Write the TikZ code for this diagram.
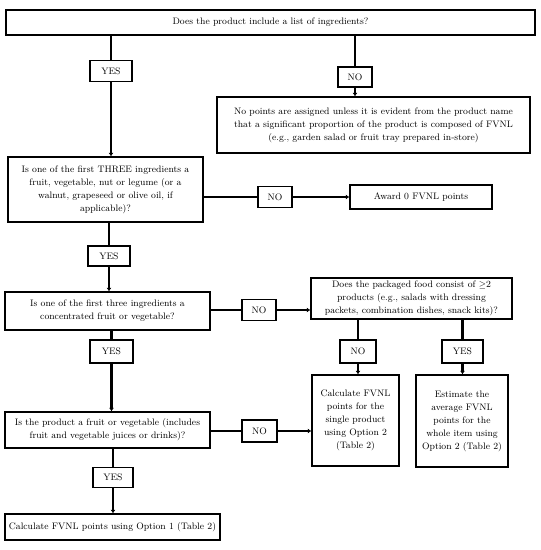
\documentclass[tikz,border=0pt]{standalone}
\usepackage{tikz}
\usetikzlibrary{arrows.meta}

\begin{document}
\begin{tikzpicture}[x=1pt,y=-1pt,
    box/.style={draw,line width=1.3pt,align=center,inner sep=0pt,
      font=\fontsize{9.4}{13}\selectfont},
    tag/.style={box,minimum width=36,minimum height=21},
    link/.style={line width=2.4pt},
    go/.style={link,-{Latex[length=3.5pt,width=5pt]}}]
    \useasboundingbox (0,0) rectangle (541,550);

    % Questions
    \node[box,minimum width=529,minimum height=25] (top) at (270.5,22.5)
      {Does the product include a list of ingredients?};
    \node[box,minimum width=195,minimum height=65] (q2) at (105.5,189.5)
      {Is one of the first THREE ingredients a\\ fruit, vegetable, nut or legume (or a\\ walnut, grapeseed or olive oil, if\\ applicable)?};
    \node[box,minimum width=205,minimum height=38] (q3) at (107.5,311)
      {Is one of the first three ingredients a\\ concentrated fruit or vegetable?};
    \node[box,minimum width=201,minimum height=41] (q4) at (411.5,298.5)
      {Does the packaged food consist of $\geq$2\\ products (e.g., salads with dressing\\ packets, combination dishes, snack kits)?};
    \node[box,minimum width=205,minimum height=36] (q5) at (107.5,430)
      {Is the product a fruit or vegetable (includes\\ fruit and vegetable juices or drinks)?};

    % Outcomes
    \node[box,minimum width=313,minimum height=56] (nopts) at (373.5,125)
      {No points are assigned unless it is evident from the product name\\ that a significant proportion of the product is composed of FVNL\\ (e.g., garden salad or fruit tray prepared in-store)};
    \node[box,minimum width=142,minimum height=24] (award) at (421,197)
      {Award 0 FVNL points};
    \node[box,minimum width=87,minimum height=91] (calc1) at (355.5,420.5)
      {Calculate FVNL\\ points for the\\ single product\\ using Option 2\\ (Table 2)};
    \node[box,minimum width=92,minimum height=92] (calc2) at (462,421)
      {Estimate the\\ average FVNL\\ points for the\\ whole item using\\ Option 2 (Table 2)};
    \node[box,minimum width=215,minimum height=26] (final) at (112.5,527)
      {Calculate FVNL points using Option 1 (Table 2)};

    % Answers
    \node[tag,minimum width=42] (yes1) at (111,71) {YES};
    \node[tag,minimum width=34,minimum height=20] (no1) at (355,77) {NO};
    \node[tag,minimum width=34] (no2) at (275,197) {NO};
    \node[tag,minimum width=42,minimum height=20] (yes2) at (109,256) {YES};
    \node[tag,minimum width=34] (no3) at (259,310) {NO};
    \node[tag,minimum width=43,minimum height=23] (yes3) at (111.5,351.5) {YES};
    \node[tag,minimum height=23] (no4) at (358,351.5) {NO};
    \node[tag,minimum width=41,minimum height=23] (yes4) at (462.5,351.5) {YES};
    \node[tag,minimum width=35,minimum height=22] (no5) at (259.5,431) {NO};
    \node[tag,minimum width=40,minimum height=20] (yes5) at (113,477.5) {YES};

    % Connectors
    \draw[link] (yes1 |- top.south) -- (yes1.north);
    \draw[go] (yes1.south) -- (yes1 |- q2.north);
    \draw[link] (no1 |- top.south) -- (no1.north);
    \draw[go] (no1.south) -- (no1 |- nopts.north);

    \draw[link] (no2 -| q2.east) -- (no2.west);
    \draw[go] (no2.east) -- (award.west |- no2);
    \draw[link] (yes2 |- q2.south) -- (yes2.north);
    \draw[go] (yes2.south) -- (yes2 |- q3.north);

    \draw[link] (no3 -| q3.east) -- (no3.west);
    \draw[go] (no3.east) -- (no3 -| q4.west);
    \draw[link] (no4 |- q4.south) -- (no4.north);
    \draw[go] (no4.south) -- (no4 |- calc1.north);
    \draw[link] (yes4 |- q4.south) -- (yes4.north);
    \draw[go] (yes4.south) -- (yes4 |- calc2.north);
    \draw[link] (yes3 |- q3.south) -- (yes3.north);
    \draw[go] (yes3.south) -- (yes3 |- q5.north);

    \draw[link] (no5 -| q5.east) -- (no5.west);
    \draw[go] (no5.east) -- (no5 -| calc1.west);
    \draw[link] (yes5 |- q5.south) -- (yes5.north);
    \draw[go] (yes5.south) -- (yes5 |- final.north);
\end{tikzpicture}
\end{document}
